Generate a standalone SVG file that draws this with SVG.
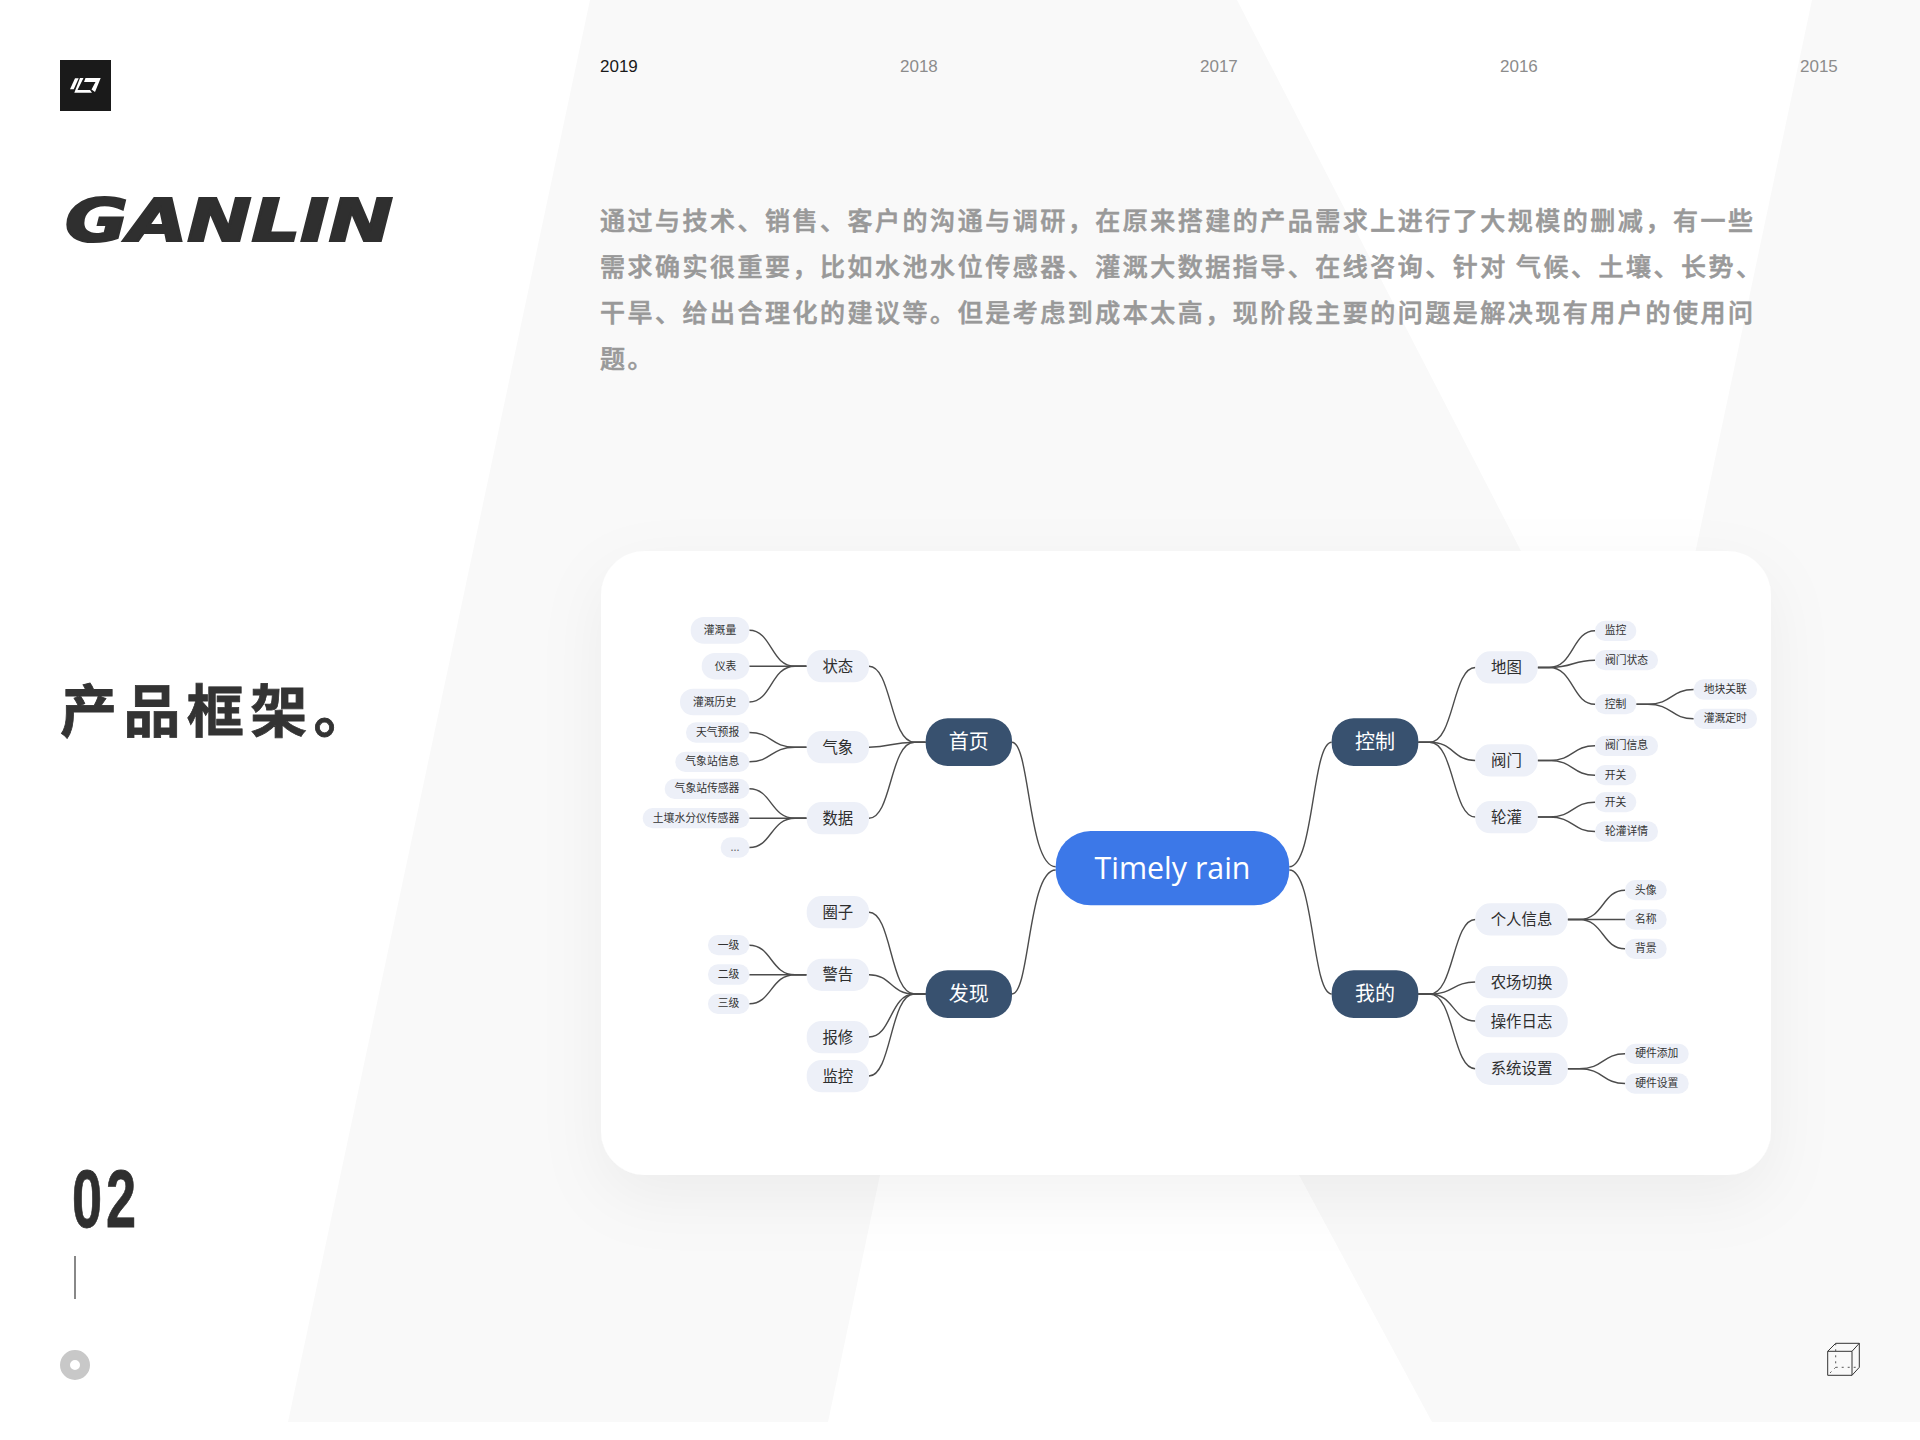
<svg xmlns="http://www.w3.org/2000/svg" width="1920" height="1440" viewBox="0 0 1920 1440">
<style>
text{font-family:"Noto Sans CJK SC","Noto Sans",sans-serif}
.bg{fill:#f9f9f9}
.yr{font-family:"Liberation Sans",Arial,sans-serif;font-size:17px;fill:#8c8c8c}
.para{font-size:25px;font-weight:500;letter-spacing:2.51px;fill:#999;stroke:#999;stroke-width:.6}
.head{font-size:57px;font-weight:700;letter-spacing:6.4px;fill:#333;stroke:#333;stroke-width:.8}
.lk{fill:none;stroke:#4c4c4c;stroke-width:1.4}
.p2,.p3{fill:#edf0f8}
.p1{fill:#38516f}
.t1{font-size:20px;fill:#fff;text-anchor:middle}
.t2{font-size:15.4px;fill:#2e2e2e;text-anchor:middle;transform:translateY(.3px)}
.t3{font-size:10.8px;fill:#333;text-anchor:middle;transform:translateY(-.3px)}
.cube{fill:none;stroke:#333;stroke-width:1}
.cubed{fill:none;stroke:#555;stroke-width:1;stroke-dasharray:2 4}
</style>
<defs>
<filter id="soft" x="-20%" y="-30%" width="140%" height="160%">
<feDropShadow dx="0" dy="22" stdDeviation="32" flood-color="#000" flood-opacity="0.05"/>
</filter>
</defs>
<rect width="1920" height="1440" fill="#fff"/>
<g id="background">
<polygon class="bg" points="590,0 1237,0 1521,551 1000,800 880,1175 828,1422 288,1422"/>
<polygon class="bg" points="1812,0 1920,0 1920,1422 1432,1422 1299,1175 1230,1000 1600,1000 1695.6,551"/>
</g>
<g id="logo">
<rect x="60" y="60" width="51" height="51" fill="#1a1a1a"/>
<polygon fill="#fff" points="75,78.3 78.7,78.3 73.7,89.3 70,89.3"/>
<polygon fill="#fff" points="80,78 83.5,78 77.5,90 90,90 92,92.7 74.3,92.7"/>
<polygon fill="#fff" points="85.5,78 100.7,78 95,92 91.5,89.5 95.5,82 84,82"/>
</g>
<text id="brand" x="65" y="241" font-size="59" font-weight="700" font-style="italic" textLength="328" lengthAdjust="spacingAndGlyphs" style="font-family:'DejaVu Sans',sans-serif" fill="#2f2f2f" stroke="#2f2f2f" stroke-width="2.2">GANLIN</text>
<g id="years">
<text class="yr" x="600" y="72" style="fill:#1a1a1a">2019</text>
<text class="yr" x="900" y="72">2018</text>
<text class="yr" x="1200" y="72">2017</text>
<text class="yr" x="1500" y="72">2016</text>
<text class="yr" x="1800" y="72">2015</text>
</g>
<g id="paragraph">
<text class="para" x="600" y="229.8">通过与技术、销售、客户的沟通与调研，在原来搭建的产品需求上进行了大规模的删减，有一些</text>
<text class="para" x="600" y="275.8">需求确实很重要，比如水池水位传感器、灌溉大数据指导、在线咨询、针对 气候、土壤、长势、</text>
<text class="para" x="600" y="321.8">干旱、给出合理化的建议等。但是考虑到成本太高，现阶段主要的问题是解决现有用户的使用问</text>
<text class="para" x="600" y="367.8">题。</text>
</g>
<text id="heading" class="head" x="60" y="732">产品框架。</text>
<g id="pager">
<text x="72" y="1227" font-size="82" font-weight="700" letter-spacing="6" transform="translate(72 1227) scale(.66 1) translate(-72 -1227)" style="font-family:'Liberation Sans',sans-serif" fill="#2f2f2f" stroke="#2f2f2f" stroke-width=".8">02</text>
<rect x="74" y="1256" width="2" height="43" fill="#888"/>
<circle cx="75" cy="1365" r="10" fill="none" stroke="#c8c8c8" stroke-width="10"/>
</g>
<g id="cube-icon">
<path class="cube" d="M1827.7 1351.3H1852V1375.3H1827.7ZM1827.7 1351.3L1835.7 1343.3H1859.3V1367.3L1852 1375.3M1852 1351.3L1859.3 1343.3"/>
<path class="cubed" d="M1835.7 1343.3V1367.3H1859.3M1835.7 1367.3L1827.7 1375.3"/>
</g>
<rect id="card" x="601" y="551" width="1170" height="624" rx="44" fill="#fff" filter="url(#soft)"/>
<g id="connectors">
<path class="lk" d="M1012 742.2C1030 742.2 1028 866.7 1055.7 866.7"/>
<path class="lk" d="M1012 994C1030 994 1028 870 1055.7 870"/>
<path class="lk" d="M1289.3 866.7C1314 866.7 1312 742.2 1331.7 742.2"/>
<path class="lk" d="M1289.3 870C1314 870 1312 994 1331.7 994"/>
<path class="lk" d="M869 666.2C891.7 666.2 890 742.2 914.4 742.2L925.7 742.2"/>
<path class="lk" d="M869 747.2C891.7 747.2 890 742.2 914.4 742.2L925.7 742.2"/>
<path class="lk" d="M869 818.2C891.7 818.2 890 742.2 914.4 742.2L925.7 742.2"/>
<path class="lk" d="M869 912.2C891.7 912.2 890 994 914.4 994L925.7 994"/>
<path class="lk" d="M869 974.7C891.7 974.7 890 994 914.4 994L925.7 994"/>
<path class="lk" d="M869 1037C891.7 1037 890 994 914.4 994L925.7 994"/>
<path class="lk" d="M869 1076C891.7 1076 890 994 914.4 994L925.7 994"/>
<path class="lk" d="M749.3 630.3C772 630.3 770.5 666.2 795 666.2L806.7 666.2"/>
<path class="lk" d="M749.3 666.2L806.7 666.2"/>
<path class="lk" d="M749.3 702C772 702 770.5 666.2 795 666.2L806.7 666.2"/>
<path class="lk" d="M749.3 732.5C772 732.5 770.5 747.2 795 747.2L806.7 747.2"/>
<path class="lk" d="M749.3 761.8C772 761.8 770.5 747.2 795 747.2L806.7 747.2"/>
<path class="lk" d="M749.3 788.8C772 788.8 770.5 818.2 795 818.2L806.7 818.2"/>
<path class="lk" d="M749.3 818.2L806.7 818.2"/>
<path class="lk" d="M749.3 847.5C772 847.5 770.5 818.2 795 818.2L806.7 818.2"/>
<path class="lk" d="M749.3 945.2C772 945.2 770.5 974.7 795 974.7L806.7 974.7"/>
<path class="lk" d="M749.3 974.7L806.7 974.7"/>
<path class="lk" d="M749.3 1003.8C772 1003.8 770.5 974.7 795 974.7L806.7 974.7"/>
<path class="lk" d="M1418.3 742.2L1429.7 742.2C1454.2 742.2 1452.5 667.5 1475.3 667.5"/>
<path class="lk" d="M1418.3 742.2L1429.7 742.2C1454.2 742.2 1452.5 760.5 1475.3 760.5"/>
<path class="lk" d="M1418.3 742.2L1429.7 742.2C1454.2 742.2 1452.5 817 1475.3 817"/>
<path class="lk" d="M1418.3 994L1429.7 994C1454.2 994 1452.5 919.5 1475.3 919.5"/>
<path class="lk" d="M1418.3 994L1429.7 994C1454.2 994 1452.5 982 1475.3 982"/>
<path class="lk" d="M1418.3 994L1429.7 994C1454.2 994 1452.5 1021 1475.3 1021"/>
<path class="lk" d="M1418.3 994L1429.7 994C1454.2 994 1452.5 1068.7 1475.3 1068.7"/>
<path class="lk" d="M1537.7 667.5L1549.2 667.5C1573.8 667.5 1572.1 630.8 1595 630.8"/>
<path class="lk" d="M1537.7 667.5L1549.2 667.5C1573.8 667.5 1572.1 660.2 1595 660.2"/>
<path class="lk" d="M1537.7 667.5L1549.2 667.5C1573.8 667.5 1572.1 704.2 1595 704.2"/>
<path class="lk" d="M1636.3 704.2L1647.8 704.2C1672.4 704.2 1670.7 689.5 1693.7 689.5"/>
<path class="lk" d="M1636.3 704.2L1647.8 704.2C1672.4 704.2 1670.7 718.8 1693.7 718.8"/>
<path class="lk" d="M1537.7 760.5L1549.2 760.5C1573.8 760.5 1572.1 745.8 1595 745.8"/>
<path class="lk" d="M1537.7 760.5L1549.2 760.5C1573.8 760.5 1572.1 775.2 1595 775.2"/>
<path class="lk" d="M1537.7 817L1549.2 817C1573.8 817 1572.1 802.2 1595 802.2"/>
<path class="lk" d="M1537.7 817L1549.2 817C1573.8 817 1572.1 831.5 1595 831.5"/>
<path class="lk" d="M1567.7 919.5L1579.2 919.5C1603.8 919.5 1602.1 890.2 1625 890.2"/>
<path class="lk" d="M1567.7 919.5L1625 919.5"/>
<path class="lk" d="M1567.7 919.5L1579.2 919.5C1603.8 919.5 1602.1 948.8 1625 948.8"/>
<path class="lk" d="M1567.7 1068.7L1579.2 1068.7C1603.8 1068.7 1602.1 1053.8 1625 1053.8"/>
<path class="lk" d="M1567.7 1068.7L1579.2 1068.7C1603.8 1068.7 1602.1 1083.5 1625 1083.5"/>
</g>
<g id="root"><rect x="1055.7" y="831" width="233.6" height="74.3" rx="35" fill="#3c78e8"/><text x="1172.5" y="879" font-size="30.4" text-anchor="middle" fill="#fff" style="font-family:'Open Sans',sans-serif">Timely rain</text></g>
<g id="n-home"><rect class="p1" x="925.7" y="718.3" width="86.3" height="47.7" rx="22"/><text class="t1" x="968.8" y="749">首页</text></g>
<g id="n-discover"><rect class="p1" x="925.7" y="970.3" width="86.3" height="47.7" rx="22"/><text class="t1" x="968.8" y="1001">发现</text></g>
<g id="n-control"><rect class="p1" x="1331.7" y="718.3" width="86.6" height="47.7" rx="22"/><text class="t1" x="1375" y="749">控制</text></g>
<g id="n-mine"><rect class="p1" x="1331.7" y="970.3" width="86.6" height="47.7" rx="22"/><text class="t1" x="1375" y="1001">我的</text></g>
<g id="n-status"><rect class="p2" x="806.7" y="650" width="62.3" height="32.3" rx="15"/><text class="t2" x="837.8" y="671.7">状态</text></g>
<g id="n-weather"><rect class="p2" x="806.7" y="731" width="62.3" height="32.3" rx="15"/><text class="t2" x="837.8" y="752.7">气象</text></g>
<g id="n-data"><rect class="p2" x="806.7" y="802" width="62.3" height="32.3" rx="15"/><text class="t2" x="837.8" y="823.7">数据</text></g>
<g id="n-circle"><rect class="p2" x="806.7" y="896" width="62.3" height="32.3" rx="15"/><text class="t2" x="837.8" y="917.7">圈子</text></g>
<g id="n-alarm"><rect class="p2" x="806.7" y="958.7" width="62.3" height="32.3" rx="15"/><text class="t2" x="837.8" y="980.2">警告</text></g>
<g id="n-repair"><rect class="p2" x="806.7" y="1021" width="62.3" height="32.3" rx="15"/><text class="t2" x="837.8" y="1042.5">报修</text></g>
<g id="n-monitor"><rect class="p2" x="806.7" y="1060" width="62.3" height="32.3" rx="15"/><text class="t2" x="837.8" y="1081.5">监控</text></g>
<g id="n-map"><rect class="p2" x="1475.3" y="651.3" width="62.4" height="32.3" rx="15"/><text class="t2" x="1506.5" y="673">地图</text></g>
<g id="n-valve"><rect class="p2" x="1475.3" y="744.3" width="62.4" height="32.3" rx="15"/><text class="t2" x="1506.5" y="766">阀门</text></g>
<g id="n-rotate"><rect class="p2" x="1475.3" y="801" width="62.4" height="32.3" rx="15"/><text class="t2" x="1506.5" y="822.5">轮灌</text></g>
<g id="n-profile"><rect class="p2" x="1475.3" y="903.3" width="92.4" height="32.3" rx="15"/><text class="t2" x="1521.5" y="925">个人信息</text></g>
<g id="n-farm"><rect class="p2" x="1475.3" y="966" width="92.4" height="32.3" rx="15"/><text class="t2" x="1521.5" y="987.5">农场切换</text></g>
<g id="n-log"><rect class="p2" x="1475.3" y="1005" width="92.4" height="32.3" rx="15"/><text class="t2" x="1521.5" y="1026.5">操作日志</text></g>
<g id="n-system"><rect class="p2" x="1475.3" y="1052.7" width="92.4" height="32.3" rx="15"/><text class="t2" x="1521.5" y="1074.2">系统设置</text></g>
<g id="l-irrigation"><rect class="p3" x="690.7" y="617" width="58.6" height="26.7" rx="13"/><text class="t3" x="720" y="634.3">灌溉量</text></g>
<g id="l-meter"><rect class="p3" x="701.7" y="653" width="47.6" height="26.4" rx="13"/><text class="t3" x="725.5" y="670.2">仪表</text></g>
<g id="l-history"><rect class="p3" x="680" y="688.7" width="69.3" height="26.6" rx="13"/><text class="t3" x="714.6" y="706">灌溉历史</text></g>
<g id="l-forecast"><rect class="p3" x="686" y="722.3" width="63.3" height="20.4" rx="10"/><text class="t3" x="717.6" y="736.5">天气预报</text></g>
<g id="l-station"><rect class="p3" x="675.3" y="751.7" width="74" height="20.3" rx="10"/><text class="t3" x="712.3" y="765.8">气象站信息</text></g>
<g id="l-sensor"><rect class="p3" x="664.7" y="778.7" width="84.6" height="20.3" rx="10"/><text class="t3" x="707" y="792.8">气象站传感器</text></g>
<g id="l-soil"><rect class="p3" x="642.7" y="808" width="106.6" height="20.3" rx="10"/><text class="t3" x="696" y="822.2">土壤水分仪传感器</text></g>
<g id="l-more"><rect class="p3" x="720.7" y="837.3" width="28.6" height="20.4" rx="10"/><text class="t3" x="735" y="851.5" style="fill:#666">...</text></g>
<g id="l-one"><rect class="p3" x="708" y="935" width="41.3" height="20.3" rx="10"/><text class="t3" x="728.6" y="949.2">一级</text></g>
<g id="l-two"><rect class="p3" x="708" y="964.3" width="41.3" height="20.4" rx="10"/><text class="t3" x="728.6" y="978.5">二级</text></g>
<g id="l-three"><rect class="p3" x="708" y="993.7" width="41.3" height="20.3" rx="10"/><text class="t3" x="728.6" y="1007.8">三级</text></g>
<g id="r-monitor"><rect class="p3" x="1595" y="620.7" width="41.3" height="20.3" rx="10"/><text class="t3" x="1615.6" y="634.8">监控</text></g>
<g id="r-valvestate"><rect class="p3" x="1595" y="650" width="63" height="20.3" rx="10"/><text class="t3" x="1626.5" y="664.2">阀门状态</text></g>
<g id="r-control"><rect class="p3" x="1595" y="694" width="41.3" height="20.3" rx="10"/><text class="t3" x="1615.6" y="708.2">控制</text></g>
<g id="r-plot"><rect class="p3" x="1693.7" y="679.3" width="63.3" height="20.4" rx="10"/><text class="t3" x="1725.3" y="693.5">地块关联</text></g>
<g id="r-timer"><rect class="p3" x="1693.7" y="708.7" width="63.3" height="20.3" rx="10"/><text class="t3" x="1725.3" y="722.8">灌溉定时</text></g>
<g id="r-valveinfo"><rect class="p3" x="1595" y="735.7" width="63" height="20.3" rx="10"/><text class="t3" x="1626.5" y="749.8">阀门信息</text></g>
<g id="r-switch1"><rect class="p3" x="1595" y="765" width="41.3" height="20.3" rx="10"/><text class="t3" x="1615.6" y="779.2">开关</text></g>
<g id="r-switch2"><rect class="p3" x="1595" y="792" width="41.3" height="20.3" rx="10"/><text class="t3" x="1615.6" y="806.2">开关</text></g>
<g id="r-rotateinfo"><rect class="p3" x="1595" y="821.3" width="63" height="20.4" rx="10"/><text class="t3" x="1626.5" y="835.5">轮灌详情</text></g>
<g id="r-avatar"><rect class="p3" x="1625" y="880" width="41.7" height="20.3" rx="10"/><text class="t3" x="1645.8" y="894.2">头像</text></g>
<g id="r-name"><rect class="p3" x="1625" y="909.3" width="41.7" height="20.4" rx="10"/><text class="t3" x="1645.8" y="923.5">名称</text></g>
<g id="r-backdrop"><rect class="p3" x="1625" y="938.7" width="41.7" height="20.3" rx="10"/><text class="t3" x="1645.8" y="952.8">背景</text></g>
<g id="r-hwadd"><rect class="p3" x="1625" y="1043.7" width="63.7" height="20.3" rx="10"/><text class="t3" x="1656.8" y="1057.8">硬件添加</text></g>
<g id="r-hwset"><rect class="p3" x="1625" y="1073.3" width="63.7" height="20.4" rx="10"/><text class="t3" x="1656.8" y="1087.5">硬件设置</text></g>
</svg>
